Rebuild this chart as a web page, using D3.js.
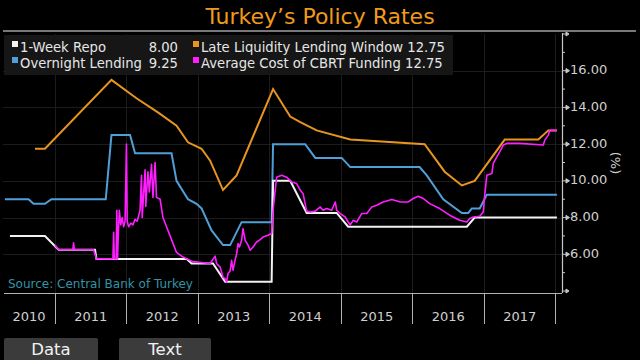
<!DOCTYPE html>
<html><head><meta charset="utf-8">
<script src="https://cdn.jsdelivr.net/npm/d3@7"></script>
<style>html,body{margin:0;padding:0;background:#000;}svg{display:block;font-family:"DejaVu Sans",sans-serif}</style>
</head><body><svg id="c" width="640" height="360"></svg>
<script>
// ---- data (time in decimal years, values in %) ----
const years = [2010, 2011, 2012, 2013, 2014, 2015, 2016, 2017];
const yTicks = [6, 8, 10, 12, 14, 16];
const yMinor = [5, 7, 9, 11, 13, 15, 17];
const xExtent = [2010.273, 2018.091];
const yExtent = [4, 18];

const repoT = [2010.37, 2010.86, 2011.05, 2011.56, 2011.58, 2012.84, 2012.91, 2013.21, 2013.38, 2014.03, 2014.05, 2014.29, 2014.52, 2014.94, 2015.10, 2016.76, 2016.87, 2018.02];
const repoV = [7.0, 7.0, 6.25, 6.25, 5.75, 5.75, 5.5, 5.5, 4.5, 4.5, 10.0, 10.0, 8.25, 8.25, 7.5, 7.5, 8.0, 8.0];

const onT = [2010.30, 2010.63, 2010.70, 2010.86, 2010.95, 2011.71, 2011.79, 2012.05, 2012.12, 2012.63, 2012.70, 2012.86, 2012.98, 2013.05, 2013.19, 2013.35, 2013.45, 2013.61, 2014.03, 2014.05, 2014.50, 2014.64, 2015.01, 2015.13, 2016.10, 2016.20, 2016.43, 2016.69, 2016.78, 2016.83, 2016.94, 2017.04, 2018.02];
const onV = [9.0, 9.0, 8.75, 8.75, 9.0, 9.0, 12.5, 12.5, 11.5, 11.5, 10.0, 9.0, 8.75, 8.5, 7.3, 6.5, 6.5, 7.75, 7.75, 12.0, 12.0, 11.25, 11.25, 10.75, 10.75, 10.3, 9.0, 8.25, 8.25, 8.5, 8.5, 9.25, 9.25];

const llwT = [2010.72, 2010.86, 2011.79, 2012.14, 2012.45, 2012.70, 2012.86, 2013.05, 2013.17, 2013.35, 2013.54, 2014.05, 2014.29, 2014.43, 2014.66, 2015.13, 2016.17, 2016.45, 2016.69, 2016.87, 2017.29, 2017.76, 2017.90, 2018.02];
const llwV = [11.75, 11.75, 15.5, 14.5, 13.7, 13.0, 12.1, 11.75, 11.1, 9.5, 10.3, 15.0, 13.5, 13.2, 12.75, 12.25, 12.0, 10.5, 9.75, 10.0, 12.25, 12.25, 12.75, 12.75];

const acfT = [2011.00, 2011.05, 2011.25, 2011.26, 2011.27, 2011.54, 2011.58, 2011.81, 2011.82, 2011.83, 2011.855, 2011.865, 2011.875, 2011.885, 2011.90, 2011.92, 2011.94, 2011.96, 2011.98, 2012.00, 2012.01, 2012.03, 2012.06, 2012.09, 2012.12, 2012.15, 2012.19, 2012.21, 2012.22, 2012.26, 2012.27, 2012.30, 2012.32, 2012.35, 2012.37, 2012.40, 2012.42, 2012.47, 2012.51, 2012.56, 2012.63, 2012.70, 2012.79, 2012.93, 2013.17, 2013.24, 2013.26, 2013.31, 2013.35, 2013.38, 2013.40, 2013.42, 2013.45, 2013.47, 2013.49, 2013.52, 2013.54, 2013.56, 2013.58, 2013.61, 2013.63, 2013.66, 2013.70, 2013.73, 2013.77, 2013.82, 2013.87, 2013.91, 2013.98, 2014.03, 2014.05, 2014.10, 2014.17, 2014.24, 2014.31, 2014.38, 2014.43, 2014.47, 2014.52, 2014.57, 2014.64, 2014.71, 2014.75, 2014.80, 2014.87, 2014.92, 2014.94, 2014.99, 2015.06, 2015.10, 2015.13, 2015.17, 2015.22, 2015.29, 2015.36, 2015.43, 2015.50, 2015.59, 2015.71, 2015.83, 2015.94, 2016.01, 2016.08, 2016.15, 2016.24, 2016.38, 2016.52, 2016.66, 2016.76, 2016.80, 2016.85, 2016.94, 2016.99, 2017.01, 2017.04, 2017.11, 2017.13, 2017.18, 2017.22, 2017.27, 2017.32, 2017.50, 2017.83, 2017.85, 2017.90, 2017.92, 2018.02];
const acfV = [6.5, 6.25, 6.25, 6.62, 6.25, 6.25, 5.75, 5.75, 7.2, 5.75, 5.75, 8.4, 5.75, 7.0, 8.4, 7.6, 8.0, 7.5, 7.8, 12.0, 7.8, 7.5, 7.7, 7.6, 7.9, 7.8, 8.4, 10.3, 8.0, 10.6, 8.6, 10.5, 9.4, 10.9, 9.1, 11.0, 9.1, 9.0, 8.0, 7.5, 6.8, 6.1, 5.85, 5.6, 5.5, 5.9, 5.5, 5.3, 4.75, 4.67, 4.5, 4.95, 5.1, 5.67, 5.13, 5.7, 6.0, 6.58, 6.4, 6.76, 7.4, 6.76, 6.5, 6.22, 6.4, 6.67, 6.8, 6.94, 7.04, 7.13, 8.4, 10.2, 10.3, 10.2, 9.94, 9.85, 9.5, 9.3, 8.35, 8.3, 8.35, 8.58, 8.4, 8.49, 8.4, 8.85, 8.4, 8.22, 8.03, 7.76, 7.6, 7.85, 7.76, 8.22, 8.22, 8.58, 8.67, 8.85, 8.98, 8.85, 8.85, 9.04, 9.16, 9.04, 8.76, 8.49, 8.13, 7.85, 7.76, 7.95, 8.03, 8.07, 8.31, 9.22, 10.31, 10.4, 10.95, 11.31, 11.58, 11.95, 12.04, 12.04, 11.95, 12.22, 12.49, 12.76, 12.75];

const seriesNames = ["1-Week Repo", "Overnight Lending", "Late Liquidity Lending Window", "Average Cost of CBRT Funding"];
const seriesLast = ["8.00", "9.25", "12.75", "12.75"];
const seriesColors = ["#f2f2f2", "#4f9fd9", "#e8951f", "#ff1eff"];

// ---- drawing ----
const svg = d3.select("#c");
svg.append("rect").attr("width", 640).attr("height", 360).attr("fill", "#000");

const x = d3.scaleLinear().domain(xExtent).range([3, 562]);
const y = d3.scaleLinear().domain(yExtent).range([291, 34]);

// title
svg.append("text").attr("x", 320).attr("y", 24).attr("text-anchor", "middle")
  .attr("fill", "#f09a1c").attr("font-size", 22).text("Turkey\u2019s Policy Rates");
svg.append("line").attr("x1", 3).attr("x2", 636).attr("y1", 31).attr("y2", 31)
  .attr("stroke", "#a0a0a0").attr("stroke-width", 1.5);

// grid
const g = svg.append("g");
g.selectAll(".hg").data(yTicks).join("line")
  .attr("x1", 3).attr("x2", 562).attr("y1", d => Math.round(y(d)) + 0.5).attr("y2", d => Math.round(y(d)) + 0.5)
  .attr("stroke", "#1c1c1c").attr("stroke-width", 1);
g.selectAll(".vg").data(years.slice(1).concat([2018])).join("line")
  .attr("x1", d => Math.round(x(d)) + 0.5).attr("x2", d => Math.round(x(d)) + 0.5).attr("y1", 34).attr("y2", 293)
  .attr("stroke", "#1c1c1c").attr("stroke-width", 1);

// legend
svg.append("rect").attr("x", 4).attr("y", 35).attr("width", 449).attr("height", 40).attr("fill", "#161616");
const legFs = 13.2;
const legPos = [[12, 20, 47], [12, 20, 63], [193, 201, 47], [193, 201, 63]];
seriesNames.forEach((n, i) => {
  const p = legPos[i];
  svg.append("rect").attr("x", p[0]).attr("y", p[2] - 6).attr("width", 6).attr("height", 6).attr("fill", seriesColors[i]);
  if (i < 2) {
    svg.append("text").attr("x", p[1]).attr("y", p[2] + 0.5).attr("fill", "#e6e6e6").attr("font-size", legFs)
      .attr("dominant-baseline", "middle").text(n);
    svg.append("text").attr("x", 178).attr("y", p[2] + 0.5).attr("fill", "#e6e6e6").attr("font-size", legFs)
      .attr("text-anchor", "end").attr("dominant-baseline", "middle").text(seriesLast[i]);
  } else {
    svg.append("text").attr("x", p[1]).attr("y", p[2] + 0.5).attr("fill", "#e6e6e6").attr("font-size", legFs)
      .attr("dominant-baseline", "middle").text(n + " " + seriesLast[i]);
  }
});

// lines
const line = d3.line().x(d => x(d[0])).y(d => y(d[1]));
const zip = (t, v) => t.map((d, i) => [d, v[i]]);
const plot = svg.append("g");
plot.append("path").datum(zip(llwT, llwV)).attr("d", line).attr("fill", "none").attr("stroke", seriesColors[2]).attr("stroke-width", 2);
plot.append("path").datum(zip(onT, onV)).attr("d", line).attr("fill", "none").attr("stroke", seriesColors[1]).attr("stroke-width", 2);
plot.append("path").datum(zip(repoT, repoV)).attr("d", line).attr("fill", "none").attr("stroke", seriesColors[0]).attr("stroke-width", 2);
plot.append("path").datum(zip(acfT, acfV)).attr("d", line).attr("fill", "none").attr("stroke", seriesColors[3]).attr("stroke-width", 1.6).attr("stroke-linejoin", "round");

// source
svg.append("text").attr("x", 8).attr("y", 288).attr("fill", "#3493a6").attr("font-size", 12).text("Source: Central Bank of Turkey");

// y axis (right)
const ax = svg.append("g").attr("fill", "#c8c8c8").attr("stroke", "#c8c8c8");
ax.append("line").attr("x1", 562.5).attr("x2", 562.5).attr("y1", 33).attr("y2", 293).attr("stroke-width", 1.2);
ax.selectAll(".mt").data(yTicks).join("path")
  .attr("d", d => { const yy = y(d); return `M562,${yy}L566,${yy}M566,${yy-2.2}L569.5,${yy}L566,${yy+2.2}Z`; })
  .attr("stroke-width", 1);
ax.selectAll(".nt").data(yMinor).join("line")
  .attr("x1", 562).attr("x2", 565).attr("y1", d => y(d)).attr("y2", d => y(d)).attr("stroke-width", 1);
[yExtent[1], yExtent[0]].forEach(v => {
  const yy = y(v);
  ax.append("path").attr("d", `M562,${yy}L566,${yy}M566,${yy-2}L569,${yy}L566,${yy+2}Z`).attr("stroke-width", 1);
});
svg.selectAll(".yl").data(yTicks).join("text")
  .attr("x", 570).attr("y", d => y(d)).attr("dominant-baseline", "middle")
  .attr("fill", "#d0d0d0").attr("font-size", 13).text(d => d3.format(".2f")(d));
svg.append("text").attr("transform", "translate(614,163) rotate(90)").attr("text-anchor", "middle")
  .attr("dominant-baseline", "middle").attr("fill", "#d0d0d0").attr("font-size", 13).text("(%)");

// x axis
svg.append("line").attr("x1", 4).attr("x2", 562).attr("y1", 293.5).attr("y2", 293.5).attr("stroke", "#b0b0b0").attr("stroke-width", 1.2);
svg.selectAll(".xt").data(years.slice(1).concat([2018])).join("line")
  .attr("x1", d => Math.round(x(d)) + 0.5).attr("x2", d => Math.round(x(d)) + 0.5)
  .attr("y1", 293).attr("y2", 324).attr("stroke", "#b0b0b0").attr("stroke-width", 1);
svg.selectAll(".xl").data(years).join("text")
  .attr("x", d => (x(Math.max(d, xExtent[0])) + x(Math.min(d + 1, 2018))) / 2)
  .attr("y", 317).attr("text-anchor", "middle").attr("dominant-baseline", "middle")
  .attr("fill", "#d0d0d0").attr("font-size", 13).text(d => d);

// buttons
const btns = [["Data", 4, 94], ["Text", 119, 92]];
btns.forEach(b => {
  svg.append("rect").attr("x", b[1]).attr("y", 338).attr("width", b[2]).attr("height", 24).attr("rx", 2).attr("fill", "#3b3b3b");
  svg.append("text").attr("x", b[1] + b[2] / 2).attr("y", 350).attr("text-anchor", "middle").attr("dominant-baseline", "middle")
    .attr("fill", "#f2f2f2").attr("font-size", 16.5).text(b[0]);
});
</script></body></html>
